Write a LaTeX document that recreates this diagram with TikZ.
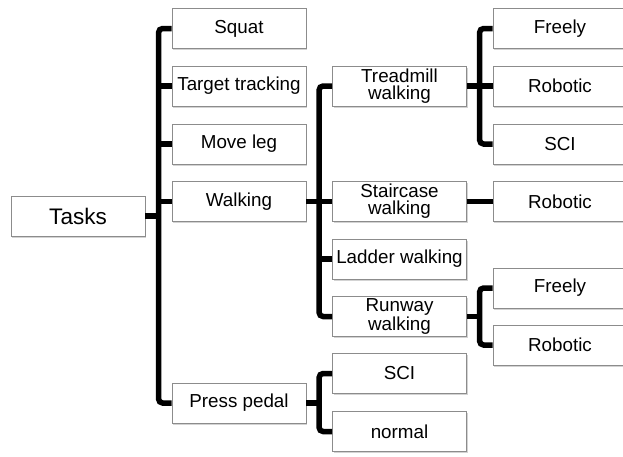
\documentclass[tikz,border=0pt]{standalone}
\usepackage{fontspec}
\setmainfont{Liberation Sans}
\usetikzlibrary{shadows}
\tikzset{
  taskbox/.style={draw=black!45, line width=0.8pt, fill=white,
    minimum width=134pt, minimum height=40pt, inner sep=1pt,
    align=center, font=\fontsize{18.8}{17}\selectfont,
    drop shadow={opacity=0.35, shadow xshift=1.2pt, shadow yshift=-1.8pt}},
  link/.style={line width=5.5pt, rounded corners=4pt}
}
\begin{document}
\begin{tikzpicture}[x=1pt,y=-1pt]
  \useasboundingbox (0,0) rectangle (623,456);
  % root
  \node[taskbox, font=\fontsize{22.5}{20}\selectfont] (tasks) at (78,216) {Tasks};
  % first level
  \node[taskbox] (squat) at (239,28.5) {Squat};
  \node[taskbox] (target) at (239,86) {Target tracking};
  \node[taskbox] (moveleg) at (239,144) {Move leg};
  \node[taskbox] (walking) at (239,201.5) {Walking};
  \node[taskbox] (press) at (239,403) {Press pedal};
  % second level
  \node[taskbox] (treadmill) at (399.5,86) {Treadmill\\walking};
  \node[taskbox] (stair) at (399.5,201.5) {Staircase\\walking};
  \node[taskbox] (ladder) at (399.5,259) {Ladder walking};
  \node[taskbox] (runway) at (399.5,316.5) {Runway\\walking};
  \node[taskbox] (pedalsci) at (399.5,373.5) {SCI};
  \node[taskbox] (normal) at (399.5,431.5) {normal};
  % third level
  \node[taskbox] (tfreely) at (560,28.5) {Freely};
  \node[taskbox] (trobotic) at (560,86) {Robotic};
  \node[taskbox] (tsci) at (560,144) {SCI};
  \node[taskbox] (srobotic) at (560,201.5) {Robotic};
  \node[taskbox] (rfreely) at (560,288) {Freely};
  \node[taskbox] (rrobotic) at (560,345) {Robotic};
  % connectors
  \draw[link] (squat.west) -- ++(-13,0) |- (press.west);
  \foreach \n in {target,moveleg,walking}
    \draw[link] (\n.west) -- ++(-13,0);
  \draw[link] (tasks.east) -- ++(14,0);
  \draw[link] (treadmill.west) -- ++(-13,0) |- (runway.west);
  \foreach \n in {stair,ladder}
    \draw[link] (\n.west) -- ++(-13,0);
  \draw[link] (walking.east) -- ++(14,0);
  \draw[link] (pedalsci.west) -- ++(-13,0) |- (normal.west);
  \draw[link] (press.east) -- ++(14,0);
  \draw[link] (tfreely.west) -- ++(-13,0) |- (tsci.west);
  \draw[link] (trobotic.west) -- ++(-13,0);
  \draw[link] (treadmill.east) -- ++(14,0);
  \draw[link] (stair.east) -- (srobotic.west);
  \draw[link] (rfreely.west) -- ++(-13,0) |- (rrobotic.west);
  \draw[link] (runway.east) -- ++(14,0);
\end{tikzpicture}
\end{document}
